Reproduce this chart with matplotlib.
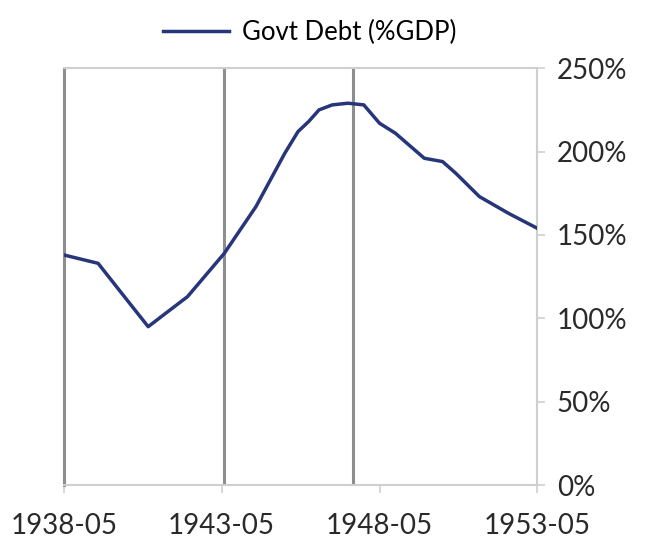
import matplotlib.pyplot as plt
import matplotlib.dates as mdates
import pandas as pd

# Dữ liệu
dates = ['1938-05', '1939-06', '1940-05', '1941-01', '1941-06', '1942-04',
         '1943-06', '1944-06', '1945-05', '1945-10', '1946-02', '1946-06',
         '1946-11', '1947-05', '1947-11', '1948-05', '1948-11', '1949-10',
         '1950-05', '1950-10', '1951-07', '1952-06', '1953-05']
debt = [138, 133, 111, 95, 101, 113, 139, 167, 199, 212, 218, 225,
        228, 229, 228, 217, 211, 196, 194, 187, 173, 163, 154]

event_dates = ['1943-06', '1947-07']
tick_dates = ['1938-05', '1943-05', '1948-05', '1953-05']
y_ticks = [0, 50, 100, 150, 200, 250]

plt.rcParams['font.family'] = ['Lato', 'DejaVu Sans']

x = pd.to_datetime(dates)
fig = plt.figure(figsize=(6.45, 5.5), dpi=100)
ax = fig.add_axes([0.099, 0.118, 0.734, 0.758])

# Vạch dọc đánh dấu sự kiện
for d in event_dates:
    ax.axvline(pd.to_datetime(d), color='#8e8e8e', lw=2.2, zorder=1)

ax.plot(x, debt, color='#27367a', lw=2.5, label='Govt Debt (%GDP)', zorder=3,
        solid_joinstyle='round')

ax.set_xlim(pd.to_datetime('1938-05'), pd.to_datetime('1953-05'))
ax.set_ylim(0, 250)

ax.set_xticks(pd.to_datetime(tick_dates))
ax.xaxis.set_major_formatter(mdates.DateFormatter('%Y-%m'))
ax.set_yticks(y_ticks)
ax.set_yticklabels([f'{v}%' for v in y_ticks])
ax.yaxis.tick_right()

for s in ['top', 'bottom', 'right']:
    ax.spines[s].set_color('#cfcfcf')
    ax.spines[s].set_linewidth(1.5)
ax.spines['left'].set_color('#8e8e8e')
ax.spines['left'].set_linewidth(2.2)
ax.tick_params(axis='both', colors='#cfcfcf', labelcolor='#2a2a2a',
               labelsize=20, length=6, width=1.2)
ax.tick_params(axis='y', pad=8)
ax.tick_params(axis='x', pad=14)

fig.legend(loc='upper center', bbox_to_anchor=(0.48, 1.005), frameon=False,
           fontsize=18.5, handlelength=2.6, handletextpad=0.5)

fig.savefig('out.png', dpi=100)
